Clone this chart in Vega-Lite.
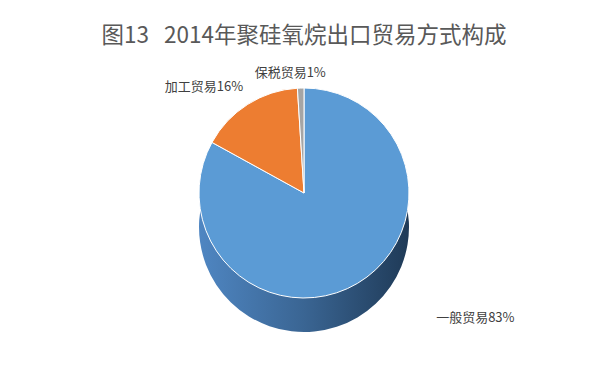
{
  "$schema": "https://vega.github.io/schema/vega-lite/v6.json",
  "width": 608,
  "height": 306,
  "autosize": {"type": "none"},
  "padding": {"top": 60, "left": 0, "right": 0, "bottom": 0},
  "background": "white",
  "title": {
    "text": "图13\u00a0\u00a0\u00a02014年聚硅氧烷出口贸易方式构成",
    "fontSize": 22.5,
    "font": "Noto Sans CJK SC",
    "fontWeight": "normal",
    "color": "#595959",
    "offset": 12,
    "dy": 26
  },
  "config": {"view": {"stroke": null}},
  "data": {
    "values": [
      {"type": "一般贸易", "pct": 83, "order": 1, "label": "一般贸易83%"},
      {"type": "加工贸易", "pct": 16, "order": 2, "label": "加工贸易16%"},
      {"type": "保税贸易", "pct": 1, "order": 3, "label": "保税贸易1%"}
    ]
  },
  "encoding": {
    "theta": {"field": "pct", "type": "quantitative", "stack": true},
    "order": {"field": "order", "type": "quantitative"}
  },
  "layer": [
    {
      "mark": {
        "type": "arc",
        "outerRadius": 105,
        "yOffset": 14,
        "fill": {
          "x1": 0, "y1": 0, "x2": 1, "y2": 0,
          "gradient": "linear",
          "stops": [
            {"offset": 0, "color": "#4f86c2"},
            {"offset": 0.5, "color": "#3a6593"},
            {"offset": 1, "color": "#1f3a57"}
          ]
        }
      }
    },
    {
      "mark": {"type": "arc", "outerRadius": 105, "yOffset": -20, "stroke": "white", "strokeWidth": 1},
      "encoding": {
        "color": {
          "field": "type",
          "type": "nominal",
          "scale": {
            "domain": ["一般贸易", "加工贸易", "保税贸易"],
            "range": ["#5B9BD5", "#ED7D31", "#A5A5A5"]
          },
          "legend": null
        }
      }
    },
    {
      "mark": {"type": "text", "radius": 150, "yOffset": -20, "dx": 95, "dy": -4, "font": "Noto Sans CJK SC", "fontSize": 13, "color": "#404040"},
      "encoding": {
        "text": {"condition": {"test": "datum.order == 1", "field": "label", "type": "nominal"}, "value": ""}
      }
    },
    {
      "mark": {"type": "text", "radius": 140, "yOffset": -20, "dx": -25, "dy": 12, "font": "Noto Sans CJK SC", "fontSize": 13, "color": "#404040"},
      "encoding": {
        "text": {"condition": {"test": "datum.order == 2", "field": "label", "type": "nominal"}, "value": ""}
      }
    },
    {
      "mark": {"type": "text", "radius": 120, "yOffset": -20, "dx": -10, "font": "Noto Sans CJK SC", "fontSize": 13, "color": "#404040"},
      "encoding": {
        "text": {"condition": {"test": "datum.order == 3", "field": "label", "type": "nominal"}, "value": ""}
      }
    }
  ]
}
